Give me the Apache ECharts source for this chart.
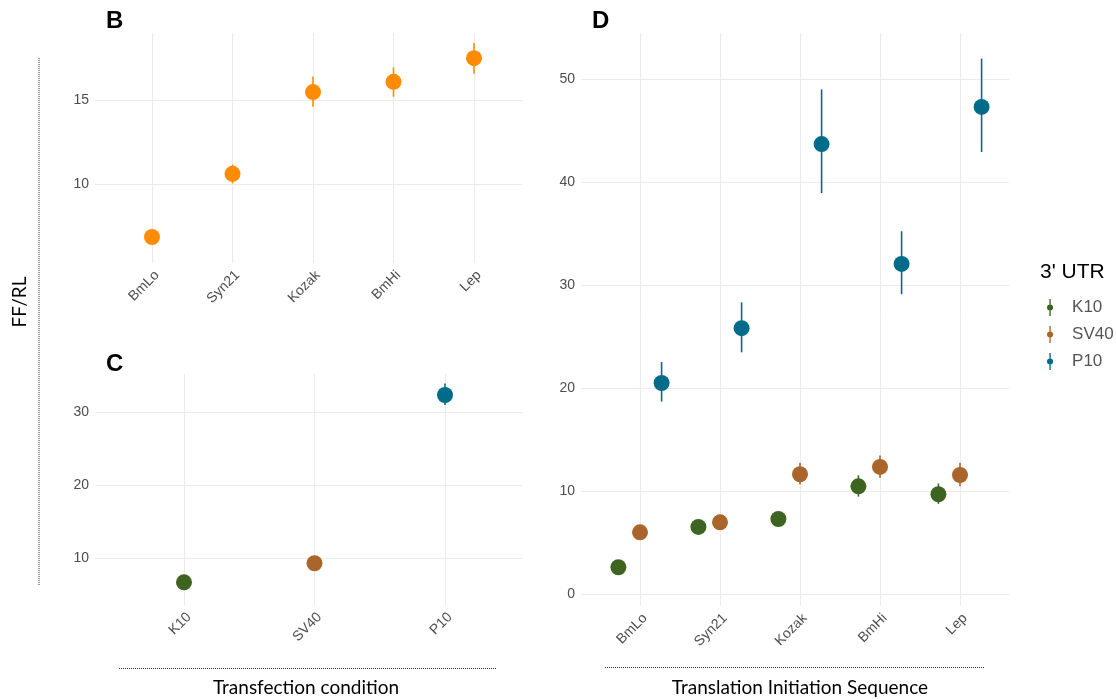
<!DOCTYPE html>
<html>
<head>
<meta charset="utf-8">
<script src="https://cdn.jsdelivr.net/npm/echarts@6/dist/echarts.min.js"></script>
<style>
  html, body { margin: 0; padding: 0; background: #ffffff; }
  #chart { width: 1116px; height: 699px; }
</style>
</head>
<body>
<div id="chart"></div>
<script>
// Categories
const seqCats = ['BmLo', 'Syn21', 'Kozak', 'BmHi', 'Lep'];
const utrCats = ['K10', 'SV40', 'P10'];

// Panel B: FF/RL by translation initiation sequence (mean, lower, upper)
const bMean = [6.85, 10.61, 15.48, 16.09, 17.50];
const bLow  = [6.45, 10.04, 14.60, 15.20, 16.57];
const bHigh = [7.25, 11.17, 16.41, 16.95, 18.41];

// Panel C: FF/RL by 3' UTR
const cMean = [6.70, 9.32, 32.37];
const cLow  = [6.20, 8.82, 31.00];
const cHigh = [7.20, 9.82, 33.96];

// Panel D: FF/RL by sequence, split by 3' UTR
const dK10Mean  = [2.65, 6.56, 7.33, 10.50, 9.73];
const dK10Low   = [2.25, 6.16, 6.93, 9.50, 8.80];
const dK10High  = [3.05, 6.96, 7.73, 11.57, 10.77];
const dSV40Mean = [6.04, 7.01, 11.67, 12.38, 11.60];
const dSV40Low  = [5.64, 6.61, 10.67, 11.30, 10.50];
const dSV40High = [6.44, 7.41, 12.80, 13.50, 12.80];
const dP10Mean  = [20.52, 25.84, 43.70, 32.07, 47.30];
const dP10Low   = [18.72, 23.50, 38.95, 29.13, 42.93];
const dP10High  = [22.56, 28.35, 49.00, 35.24, 51.99];

// Tick values
const bTicks = [10, 15];
const cTicks = [10, 20, 30];
const dTicks = [0, 10, 20, 30, 40, 50];

const ORANGE = '#ff8c00';
const utrColors = ['#3d6521', '#aa662a', '#006c8a'];
const GRID_COLOR = '#ebebeb';
const LABEL_COLOR = '#4d4d4d';
const DODGE = 0.27;

const chart = echarts.init(document.getElementById('chart'), null, { renderer: 'canvas' });

function idx(n) { return Array.from({ length: n }, (_, i) => i); }

function xAxisFor(gridIndex, cats, min, max) {
  return {
    type: 'value', gridIndex, min, max,
    axisLine: { show: false },
    axisTick: { show: false, customValues: idx(cats.length) },
    splitLine: { show: true, lineStyle: { color: GRID_COLOR, width: 1 } },
    axisLabel: {
      customValues: idx(cats.length),
      formatter: v => cats[Math.round(v)],
      rotate: 45, margin: 5, verticalAlign: 'top',
      color: LABEL_COLOR, fontSize: 14, fontFamily: 'Liberation Sans'
    }
  };
}

function yAxisFor(gridIndex, ticks, min, max) {
  return {
    type: 'value', gridIndex, min, max,
    axisLine: { show: false },
    axisTick: { show: false, customValues: ticks },
    splitLine: { show: true, lineStyle: { color: GRID_COLOR, width: 1 } },
    axisLabel: {
      customValues: ticks, margin: 6,
      color: LABEL_COLOR, fontSize: 14, fontFamily: 'Liberation Sans'
    }
  };
}

// Vertical error bar drawn through the axis scales
function errorBar(params, api) {
  const x = api.value(0);
  const p1 = api.coord([x, api.value(1)]);
  const p2 = api.coord([x, api.value(2)]);
  const color = api.value(3) >= 0 ? utrColors[api.value(3)] : ORANGE;
  return {
    type: 'line',
    shape: { x1: p1[0], y1: p1[1], x2: p2[0], y2: p2[1] },
    style: { stroke: color, lineWidth: 1.6 }
  };
}

function errSeries(name, xi, yi, xs, lo, hi, colorIdx) {
  return {
    name, type: 'custom', xAxisIndex: xi, yAxisIndex: yi, silent: true,
    renderItem: errorBar,
    encode: { x: 0, y: [1, 2] },
    data: xs.map((x, i) => [x, lo[i], hi[i], Array.isArray(colorIdx) ? colorIdx[i] : colorIdx])
  };
}

const series = [];

// Panel B
series.push(errSeries('B range', 0, 0, idx(seqCats.length), bLow, bHigh, -1));
series.push({
  name: 'B', type: 'scatter', xAxisIndex: 0, yAxisIndex: 0, symbol: 'circle', symbolSize: 16,
  itemStyle: { color: ORANGE, opacity: 1 },
  data: bMean.map((v, i) => [i, v])
});

// Panel C
series.push(errSeries('C range', 1, 1, idx(utrCats.length), cLow, cHigh, idx(utrCats.length)));
series.push({
  name: 'C', type: 'scatter', xAxisIndex: 1, yAxisIndex: 1, symbol: 'circle', symbolSize: 16,
  data: cMean.map((v, i) => ({ value: [i, v], itemStyle: { color: utrColors[i], opacity: 1 } }))
});

// Panel D (dodged by 3' UTR)
const dGroups = [
  [dK10Mean, dK10Low, dK10High],
  [dSV40Mean, dSV40Low, dSV40High],
  [dP10Mean, dP10Low, dP10High]
];
dGroups.forEach(([m, lo, hi], g) => {
  const off = (g - 1) * DODGE;
  const xs = idx(seqCats.length).map(i => i + off);
  series.push(errSeries(utrCats[g] + ' range', 2, 2, xs, lo, hi, g));
});
dGroups.forEach(([m], g) => {
  const off = (g - 1) * DODGE;
  series.push({
    name: utrCats[g], type: 'scatter', xAxisIndex: 2, yAxisIndex: 2, symbol: 'circle', symbolSize: 16,
    itemStyle: { color: utrColors[g], opacity: 1 },
    data: m.map((v, i) => [i + off, v])
  });
});

// Legend key: a short vertical range line with a dot in the middle
const legendIcon = 'path://M4.2 0 L5.8 0 L5.8 20 L4.2 20 Z M5 6.4 A3.6 3.6 0 1 1 4.99 6.4 Z';

const option = {
  backgroundColor: '#ffffff',
  animation: false,
  grid: [
    { left: 95, top: 33, width: 427, height: 230 },
    { left: 95, top: 374, width: 427, height: 231 },
    { left: 581, top: 33, width: 428, height: 573 }
  ],
  xAxis: [
    xAxisFor(0, seqCats, -0.708, 4.596),
    xAxisFor(1, utrCats, -0.682, 2.59),
    xAxisFor(2, seqCats, -0.7375, 4.6125)
  ],
  yAxis: [
    yAxisFor(0, bTicks, 5.3, 19.0),
    yAxisFor(1, cTicks, 3.6, 35.25),
    yAxisFor(2, dTicks, -1.106, 54.47)
  ],
  legend: {
    data: utrCats,
    orient: 'vertical',
    left: 1042, top: 294,
    itemWidth: 12, itemHeight: 17, itemGap: 10,
    icon: legendIcon,
    selectedMode: false,
    textStyle: { fontSize: 17, color: '#555555', fontFamily: 'Liberation Sans', padding: [0, 0, 0, 11] }
  },
  graphic: [
    { type: 'text', left: 106, top: 9, style: { text: 'B', font: 'bold 24px "Liberation Sans"', fill: '#000' } },
    { type: 'text', left: 106, top: 352, style: { text: 'C', font: 'bold 24px "Liberation Sans"', fill: '#000' } },
    { type: 'text', left: 592, top: 9, style: { text: 'D', font: 'bold 24px "Liberation Sans"', fill: '#000' } },
    { type: 'text', x: 20, y: 302, rotation: Math.PI / 2,
      style: { text: 'FF/RL', font: '19px Lato', fill: '#000', align: 'center', verticalAlign: 'middle' } },
    { type: 'text', x: 306, y: 688,
      style: { text: 'Transfection condition', font: '19px Lato', fill: '#000', align: 'center', verticalAlign: 'middle' } },
    { type: 'text', x: 800, y: 688,
      style: { text: 'Translation Initiation Sequence', font: '19px Lato', fill: '#000', align: 'center', verticalAlign: 'middle' } },
    { type: 'text', x: 1040, y: 272,
      style: { text: "3' UTR", font: '21px "Liberation Sans"', fill: '#000', align: 'left', verticalAlign: 'middle' } },
    { type: 'line', shape: { x1: 39, y1: 58, x2: 39, y2: 585 },
      style: { stroke: '#333', lineWidth: 1, lineDash: [1, 1] } },
    { type: 'line', shape: { x1: 119, y1: 668.5, x2: 497, y2: 668.5 },
      style: { stroke: '#333', lineWidth: 1, lineDash: [1, 1] } },
    { type: 'line', shape: { x1: 605, y1: 667.5, x2: 985, y2: 667.5 },
      style: { stroke: '#333', lineWidth: 1, lineDash: [1, 1] } }
  ],
  series
};

chart.setOption(option);
</script>
</body>
</html>
